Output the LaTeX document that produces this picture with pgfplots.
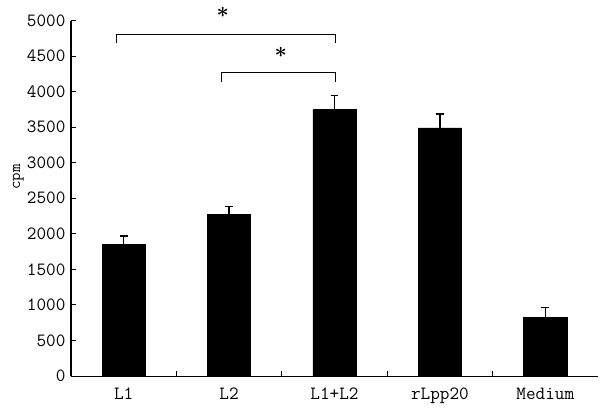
\documentclass[border=0pt]{standalone}
\usepackage{pgfplots}
\pgfplotsset{compat=1.18}

\begin{document}
\begin{tikzpicture}
\begin{axis}[
  name=ax,
  scale only axis,
  width=351.3bp, height=237bp,
  xmin=-0.5, xmax=4.5,
  ymin=0, ymax=5000,
  axis lines*=left,
  axis line style={line width=0.7pt},
  ybar, bar width=28.9bp,
  xtick={0,1,2,3,4},
  xticklabels={L1,L2,L1+L2,rLpp20,Medium},
  major x tick style={draw=none},
  minor xtick={0.5,1.5,2.5,3.5},
  ytick={0,500,...,5000},
  tick align=inside,
  major tick length=3.3bp, minor tick length=3.3bp,
  tick style={black, line width=0.7pt},
  /pgf/number format/assume math mode=true,
  scaled y ticks=false,
  yticklabel style={/pgf/number format/1000 sep={}, inner sep=0pt, xshift=-3.5bp},
  xticklabel style={inner sep=0pt, yshift=-8bp},
  tick label style={font=\fontsize{12.5}{14}\selectfont\ttfamily},
  ylabel={cpm},
  ylabel style={at={(axis description cs:-0.100,0.56)}, anchor=center,
    font=\fontsize{11}{13}\selectfont\ttfamily},
  clip=false,
]
\addplot[fill=black, draw=black,
  error bars/.cd, y dir=plus, y explicit,
  error bar style={line width=0.8pt, black},
  error mark options={rotate=90, mark size=2.6bp, line width=0.8pt, black}]
  coordinates {
  (0,1850) +- (0,120)
  (1,2275) +- (0,115)
  (2,3750) +- (0,195)
  (3,3490) +- (0,195)
  (4,820)  +- (0,140)
};
% significance brackets
\draw[line width=0.7pt] (axis cs:-0.066,4679) -- (axis cs:-0.066,4800)
  -- (axis cs:2.009,4800) -- (axis cs:2.009,4679);
\draw[line width=0.7pt] (axis cs:0.929,4139) -- (axis cs:0.929,4266)
  -- (axis cs:2.009,4266) -- (axis cs:2.009,4139);
\node[font=\Large\boldmath, inner sep=0pt] at (axis cs:0.941,5120) {$\ast$};
\node[font=\Large\boldmath, inner sep=0pt] at (axis cs:1.49,4547) {$\ast$};
\coordinate (bl) at (rel axis cs:-0.1347,-0.09);
\coordinate (tr) at (rel axis cs:1.0038,1.0577);
\end{axis}
\pgfresetboundingbox
\path (bl) rectangle (tr);
\end{tikzpicture}
\end{document}
